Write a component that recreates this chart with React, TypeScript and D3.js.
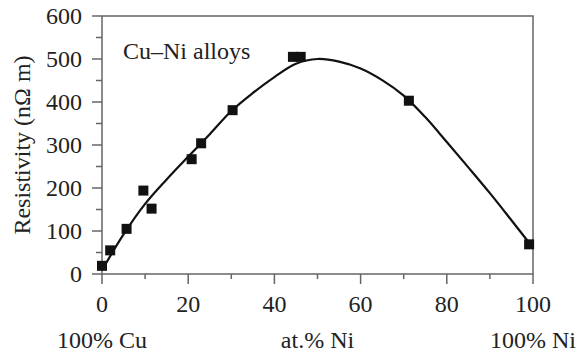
import React from "react";
import * as d3 from "d3";

const pointX = [0, 1.9, 5.7, 9.6, 11.5, 20.8, 23, 30.3, 44.3, 46.1, 71.2, 99.1];
const pointY = [19, 55, 105, 194, 152, 267, 304, 381, 505, 505, 403, 69];

const curveX = [0, 5, 10, 15, 20, 25, 30, 35, 40, 45, 50, 55, 60, 65, 70, 75, 80, 85, 90, 95, 100];
const curveY = [9, 92, 163, 220, 273, 325, 379, 421, 458, 489, 500, 494, 478, 451, 415, 365, 307, 248, 188, 125, 61];

const xMajor = [0, 20, 40, 60, 80, 100];
const xMinor = [10, 30, 50, 70, 90];
const yMajor = [0, 100, 200, 300, 400, 500, 600];
const yMinor = [50, 150, 250, 350, 450, 550];

const bottomLabels = [
  { x: 0, text: "100% Cu" },
  { x: 50, text: "at.% Ni" },
  { x: 100, text: "100% Ni" },
];

export default function App() {
  const W = 579, H = 354;
  const left = 102, right = 533, top = 16, bottom = 274;
  const x = d3.scaleLinear().domain([0, 100]).range([left, right]);
  const y = d3.scaleLinear().domain([0, 600]).range([bottom, top]);
  const line = d3
    .line<number>()
    .x((_, i) => x(curveX[i]))
    .y((d) => y(d))
    .curve(d3.curveCatmullRom.alpha(0.5));
  const axisColor = "#666";
  const textColor = "#222";
  const ts = { fontFamily: "Liberation Serif" };
  const fs = 24;
  const sq = 10;
  return (
    <svg width={W} height={H} style={{ position: "absolute", left: 0, top: 0, background: "#fff" }}>
      <rect x={0} y={0} width={W} height={H} fill="#fff" />
      <rect x={left} y={top} width={right - left} height={bottom - top} fill="none" stroke={axisColor} strokeWidth={1.5} />
      {xMajor.map((v) => (
        <line key={"xm" + v} x1={x(v)} x2={x(v)} y1={bottom} y2={bottom + 10} stroke={axisColor} strokeWidth={1.5} />
      ))}
      {xMinor.map((v) => (
        <line key={"xn" + v} x1={x(v)} x2={x(v)} y1={bottom} y2={bottom + 5} stroke={axisColor} strokeWidth={1.5} />
      ))}
      {xMajor.map((v) => (
        <text key={"xl" + v} x={x(v)} y={312} textAnchor="middle" fontSize={fs} fill={textColor} style={ts}>
          {v}
        </text>
      ))}
      {yMajor.map((v) => (
        <line key={"ym" + v} x1={left - 10} x2={left} y1={y(v)} y2={y(v)} stroke={axisColor} strokeWidth={1.5} />
      ))}
      {yMinor.map((v) => (
        <line key={"yn" + v} x1={left - 6} x2={left} y1={y(v)} y2={y(v)} stroke={axisColor} strokeWidth={1.5} />
      ))}
      {yMajor.map((v) => (
        <text key={"yl" + v} x={82} y={y(v)} dy="0.33em" textAnchor="end" fontSize={fs} fill={textColor} style={ts}>
          {v}
        </text>
      ))}
      <text transform={`translate(30,${(top + bottom) / 2}) rotate(-90)`} textAnchor="middle" fontSize={fs} fill={textColor} style={ts}>
        Resistivity (nΩ m)
      </text>
      {bottomLabels.map((b) => (
        <text key={b.text} x={x(b.x)} y={348} textAnchor="middle" fontSize={fs} fill={textColor} style={ts}>
          {b.text}
        </text>
      ))}
      <text x={123} y={59} fontSize={fs} fill={textColor} style={ts}>
        Cu–Ni alloys
      </text>
      <path d={line(curveY) || ""} fill="none" stroke="#111" strokeWidth={2.2} />
      {pointX.map((px, i) => (
        <rect key={"p" + i} x={x(px) - sq / 2} y={y(pointY[i]) - sq / 2} width={sq} height={sq} fill="#111" />
      ))}
    </svg>
  );
}
